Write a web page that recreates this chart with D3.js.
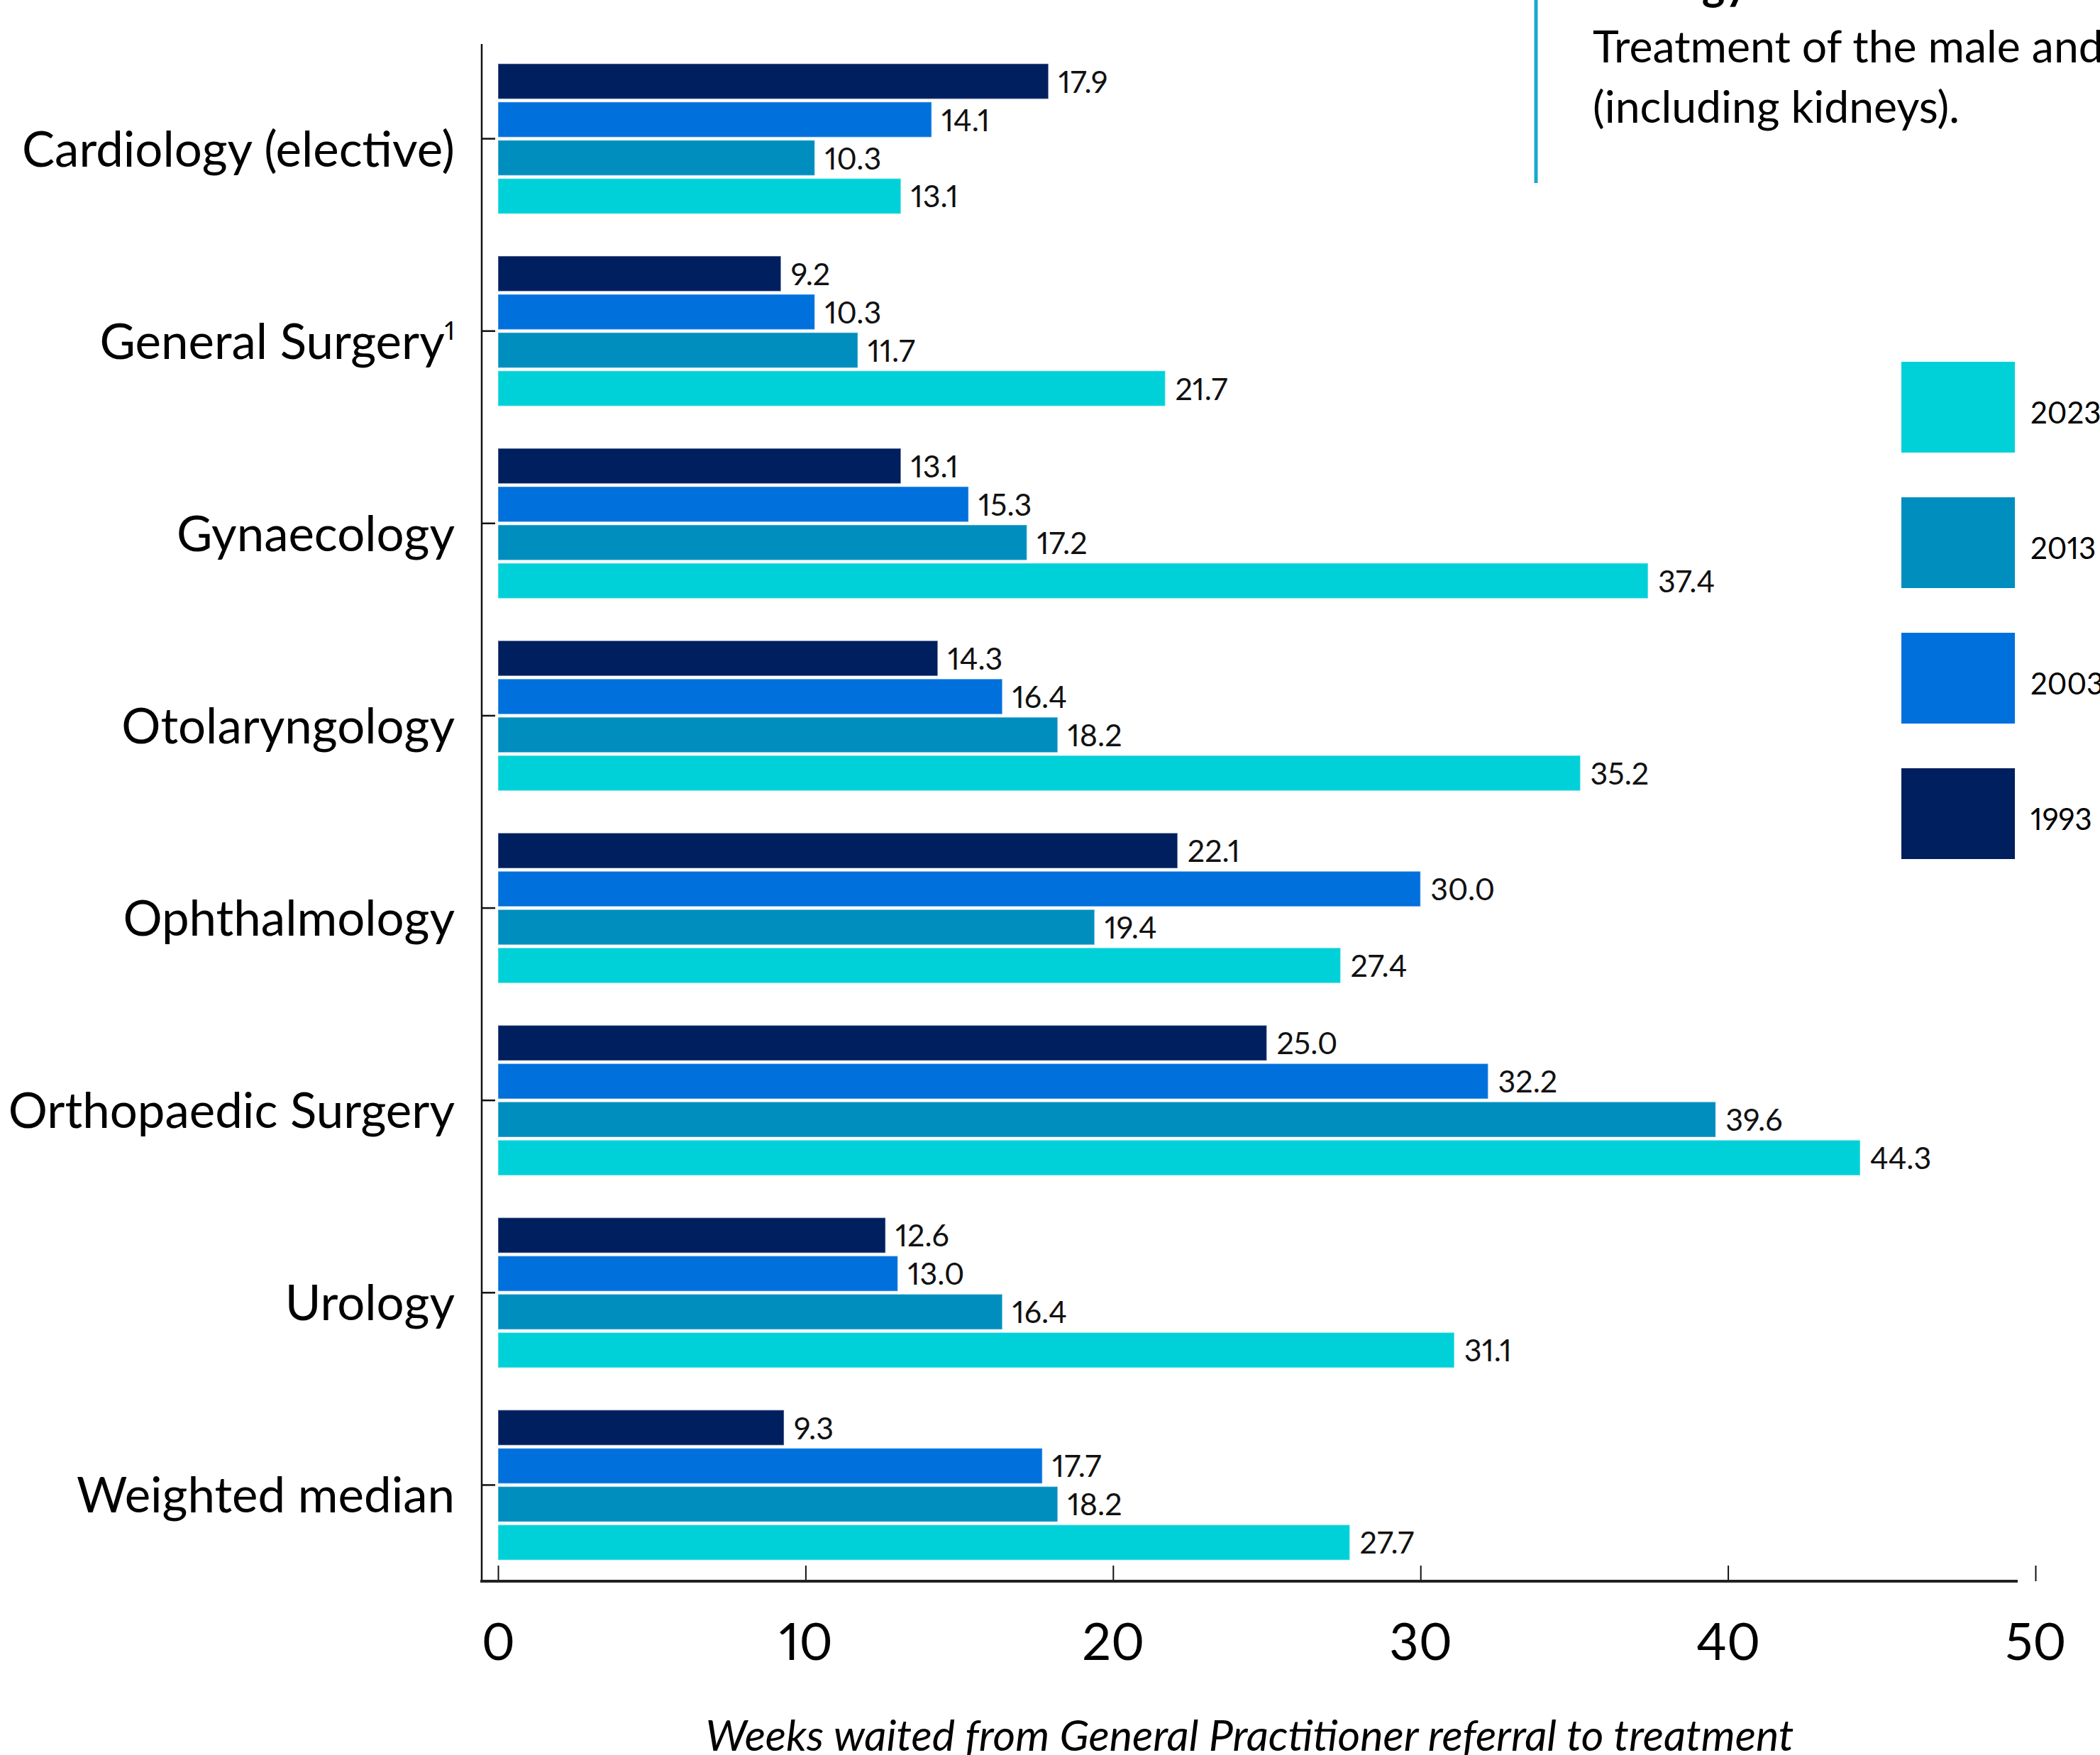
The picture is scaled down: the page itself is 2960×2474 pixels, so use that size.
<!DOCTYPE html>
<html>
<head>
<meta charset="utf-8">
<script src="https://cdn.jsdelivr.net/npm/d3@7"></script>
<style>
  body { margin: 0; background: #fff; }
  svg { display: block; }
  text { font-family: Lato, 'Open Sans', sans-serif; font-variant-numeric: proportional-nums; }
</style>
</head>
<body>
<div id="chart"></div>
<script>
const width = 2960;
const height = 2474;

const categories = ['Cardiology (elective)', 'General Surgery', 'Gynaecology', 'Otolaryngology',
  'Ophthalmology', 'Orthopaedic Surgery', 'Urology', 'Weighted median'];
const years = ['1993', '2003', '2013', '2023'];
const legendYears = ['2023', '2013', '2003', '1993'];

const v1993 = [17.9, 9.2, 13.1, 14.3, 22.1, 25.0, 12.6, 9.3];
const v2003 = [14.1, 10.3, 15.3, 16.4, 30.0, 32.2, 13.0, 17.7];
const v2013 = [10.3, 11.7, 17.2, 18.2, 19.4, 39.6, 16.4, 18.2];
const v2023 = [13.1, 21.7, 37.4, 35.2, 27.4, 44.3, 31.1, 27.7];

const xTicks = [0, 10, 20, 30, 40, 50];

const colors = {
  '1993': '#001F5E',
  '2003': '#0070DC',
  '2013': '#008EBE',
  '2023': '#00D1D8'
};

const series = { '1993': v1993, '2003': v2003, '2013': v2013, '2023': v2023 };

const rows = [];
categories.forEach((c, i) => {
  years.forEach(yr => rows.push({ cat: c, year: yr, value: series[yr][i] }));
});

const svg = d3.select('#chart')
  .append('svg')
  .attr('width', width)
  .attr('height', height);

const x = d3.scaleLinear().domain([0, 50]).range([702, 2869]);

const y0 = d3.scaleBand()
  .domain(categories)
  .range([60, 2229])
  .paddingInner(0.22)
  .paddingOuter(0.11);

const y1 = d3.scaleBand()
  .domain(years)
  .range([0, y0.bandwidth()])
  .paddingInner(0.08);

const axisX = 679;
const axisY = 2229;

// bars
svg.append('g')
  .selectAll('rect')
  .data(rows)
  .enter()
  .append('rect')
  .attr('x', x(0))
  .attr('y', d => y0(d.cat) + y1(d.year))
  .attr('width', d => x(d.value) - x(0))
  .attr('height', y1.bandwidth())
  .attr('fill', d => colors[d.year])
  .attr('stroke', 'rgba(255,255,255,0.35)')
  .attr('stroke-width', 1.5);

// value labels
svg.append('g')
  .selectAll('text')
  .data(rows)
  .enter()
  .append('text')
  .attr('x', d => x(d.value) + 14)
  .attr('y', d => y0(d.cat) + y1(d.year) + y1.bandwidth() / 2 + 16)
  .attr('font-size', 43)
  .attr('fill', '#111')
  .text(d => d.value.toFixed(1));

// y axis
svg.append('line')
  .attr('x1', axisX).attr('x2', axisX)
  .attr('y1', 62).attr('y2', axisY)
  .attr('stroke', '#111')
  .attr('stroke-width', 2.5);

const yAxis = svg.append('g')
  .attr('transform', `translate(${axisX},0)`)
  .call(d3.axisRight(y0).tickSize(19).tickFormat(''));
yAxis.select('.domain').remove();
yAxis.selectAll('.tick line').attr('stroke', '#111').attr('stroke-width', 2.5);

// category labels
const catLabels = svg.append('g')
  .selectAll('text')
  .data(categories)
  .enter()
  .append('text')
  .attr('x', 641)
  .attr('y', d => y0(d) + y0.bandwidth() / 2 + 39)
  .attr('text-anchor', 'end')
  .attr('font-size', 69)
  .attr('fill', '#000')
  .text(d => d);

catLabels.filter(d => d === 'General Surgery')
  .append('tspan')
  .attr('font-size', 36)
  .attr('dy', -27)
  .text('1');

// x axis
const xAxis = svg.append('g')
  .attr('transform', `translate(0,${axisY})`)
  .call(d3.axisBottom(x).tickValues(xTicks).tickSize(-22).tickPadding(60).tickFormat(d3.format('d')));
xAxis.select('.domain').remove();
xAxis.selectAll('.tick line').attr('stroke', '#111').attr('stroke-width', 2);
xAxis.selectAll('.tick text')
  .attr('font-size', 72)
  .attr('font-family', 'Lato, sans-serif')
  .attr('fill', '#000');

svg.append('line')
  .attr('x1', axisX - 2).attr('x2', x.range()[1] - 25)
  .attr('y1', axisY).attr('y2', axisY)
  .attr('stroke', '#222')
  .attr('stroke-width', 4);

svg.append('text')
  .attr('x', (axisX + x.range()[1] - 25) / 2)
  .attr('y', 2468)
  .attr('text-anchor', 'middle')
  .attr('font-size', 61)
  .attr('font-style', 'italic')
  .attr('fill', '#000')
  .text('Weeks waited from General Practitioner referral to treatment');

// legend
const legend = svg.append('g')
  .selectAll('g')
  .data(legendYears)
  .enter()
  .append('g')
  .attr('transform', (d, i) => `translate(2680,${510 + i * 191})`);

legend.append('rect')
  .attr('width', 160)
  .attr('height', 128)
  .attr('fill', d => colors[d]);

legend.append('text')
  .attr('x', 182)
  .attr('y', 87)
  .attr('font-size', 42)
  .attr('font-family', "'Noto Sans', Lato, sans-serif")
  .attr('fill', '#000')
  .text(d => d);

// note box at top right (cut off in the original)
svg.append('line')
  .attr('x1', 2165).attr('x2', 2165)
  .attr('y1', 0).attr('y2', 258)
  .attr('stroke', '#1AA8CF')
  .attr('stroke-width', 5);

svg.append('text')
  .attr('x', 2245)
  .attr('y', 0)
  .attr('font-size', 62)
  .attr('font-weight', 'bold')
  .attr('fill', '#000')
  .text('Urology');

const note = svg.append('text')
  .attr('x', 2245)
  .attr('font-size', 62.5)
  .attr('fill', '#000');
note.append('tspan').attr('x', 2245).attr('y', 88).text('Treatment of the male and female urinary tract');
note.append('tspan').attr('x', 2245).attr('y', 173).text('(including kidneys).');
</script>
</body>
</html>
